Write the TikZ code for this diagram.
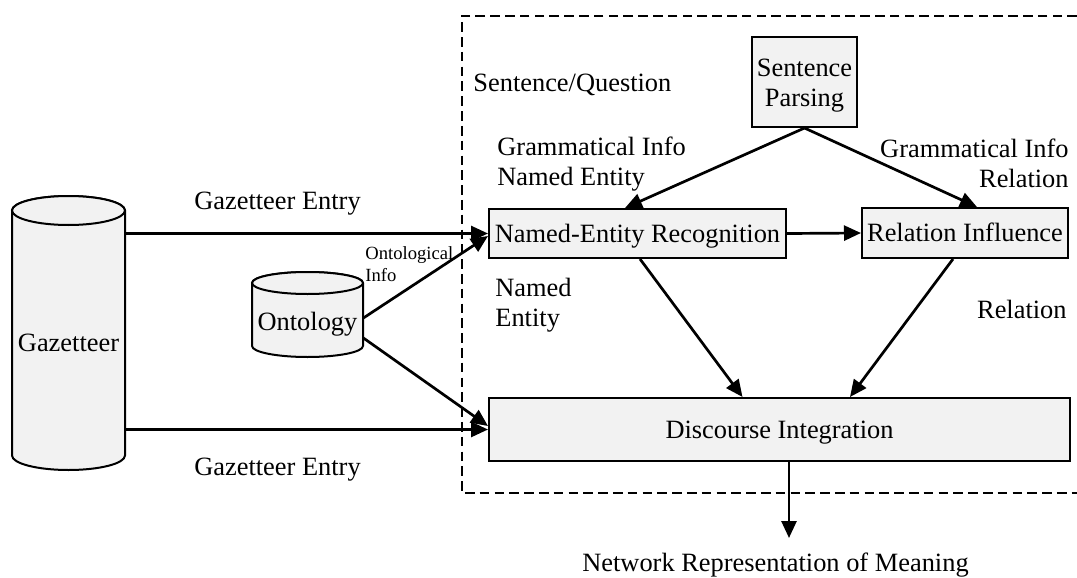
\documentclass[tikz,border=0pt]{standalone}
\usepackage{fontspec}
\setmainfont{Liberation Serif}
\usetikzlibrary{arrows.meta}

\definecolor{boxfill}{HTML}{F2F2F2}

\tikzset{
  base/.style={font=\fontsize{13.2}{15}\selectfont, inner sep=0pt},
  single/.style={text height=8.7pt, text depth=0pt},
  proc/.style={base, draw, line width=1pt, fill=boxfill, align=center},
  lbl/.style={base},
  small/.style={inner sep=0pt, font=\fontsize{9.3}{10.7}\selectfont, align=left},
  flow/.style={line width=1.35pt, -{Triangle[length=8.5pt,width=7.5pt]}},
  frame/.style={line width=1.2pt, dash pattern=on 4.8pt off 2.6pt},
  cyl/.style={line width=1pt, fill=boxfill}
}

\begin{document}
\begin{tikzpicture}[x=0.5pt, y=-0.5pt]
\useasboundingbox (0,0) rectangle (1077,578);

% dashed frame of the language-processing stage
\draw[frame] (1077,15.7) -- (462,15.7) -- (462,493) -- (1077,493);

% Gazetteer cylinder
\filldraw[cyl] (12,210.5) -- (12,455.5)
  arc[start angle=180, end angle=360, x radius=28.25pt, y radius=7.25pt]
  -- (125,210.5)
  arc[start angle=0, end angle=180, x radius=28.25pt, y radius=7.25pt] -- cycle;
\draw[cyl] (68.5,210.5) ellipse [x radius=28.25pt, y radius=7.25pt];
\node[base, single, minimum width=56.5pt] (gaz) at (68.5,343) {Gazetteer};

% Ontology cylinder
\filldraw[cyl] (252,283) -- (252,346)
  arc[start angle=180, end angle=360, x radius=27.75pt, y radius=5.5pt]
  -- (363,283)
  arc[start angle=0, end angle=180, x radius=27.75pt, y radius=5.5pt] -- cycle;
\draw[cyl] (307.5,283) ellipse [x radius=27.75pt, y radius=5.5pt];
\node[base, single, minimum width=55.5pt] (onto) at (307.5,321.7) {Ontology};

% processing steps
\node[proc, minimum width=52.5pt, minimum height=45pt] (sp) at (804.5,82)
  {\raisebox{-1.75pt}[\height][\depth]{\begin{tabular}{@{}c@{}}Sentence\\Parsing\end{tabular}}};
\node[proc, single, minimum width=148.5pt, minimum height=24.5pt] (ner) at (637.5,233.5) {Named-Entity Recognition};
\node[proc, single, minimum width=103pt, minimum height=25pt] (ri) at (965,233) {Relation Influence};
\node[proc, single, minimum width=290.5pt, minimum height=31.5pt] (di) at (779.5,429.5) {Discourse Integration};

% output
\node[lbl, single] (net) at (775.5,563) {Network Representation of Meaning};
\coordinate (out) at (789,538);

% connectors
\draw[flow] (gaz.east |- ner.west) -- (ner.west);
\draw[flow] (gaz.east |- di.west) -- (di.west);
\draw[flow] ([yshift=1.85pt]onto.east) -- ([yshift=-1.25pt]ner.west);
\draw[flow] ([yshift=-8.15pt]onto.east) -- ([yshift=1.75pt]di.west);
\draw[flow] (sp.south) -- ([xshift=-6.25pt]ner.north);
\draw[flow] (sp.south) -- ([xshift=6pt]ri.north);
\draw[flow] (ner.east) -- (ri.west);
\draw[flow] ([xshift=1.25pt]ner.south) -- ([xshift=-18.5pt]di.north);
\draw[flow] ([xshift=-6pt]ri.south) -- ([xshift=35.25pt]di.north);
\draw[flow] (di.south -| out) -- (out);

% labels
\node[lbl, single] (geTop) at (277.5,200.7) {Gazetteer Entry};
\node[lbl, single] (geBot) at (277.5,466.7) {Gazetteer Entry};
\node[small, anchor=west] (ontoInfo) at (365,264) {Ontological\\Info};
\node[lbl, single, anchor=west] (sq) at (473,82.7) {Sentence/Question};
\node[lbl, anchor=west, align=left] (giNE) at (497,164.5) {Grammatical Info\\Named Entity};
\node[lbl, anchor=east, align=right] (giRel) at (1069,163.5) {Grammatical Info\\Relation};
\node[lbl, anchor=west, align=left] (ne) at (495,305) {Named\\Entity};
\node[lbl, single, anchor=east] (rel) at (1067,310) {Relation};
\end{tikzpicture}
\end{document}
